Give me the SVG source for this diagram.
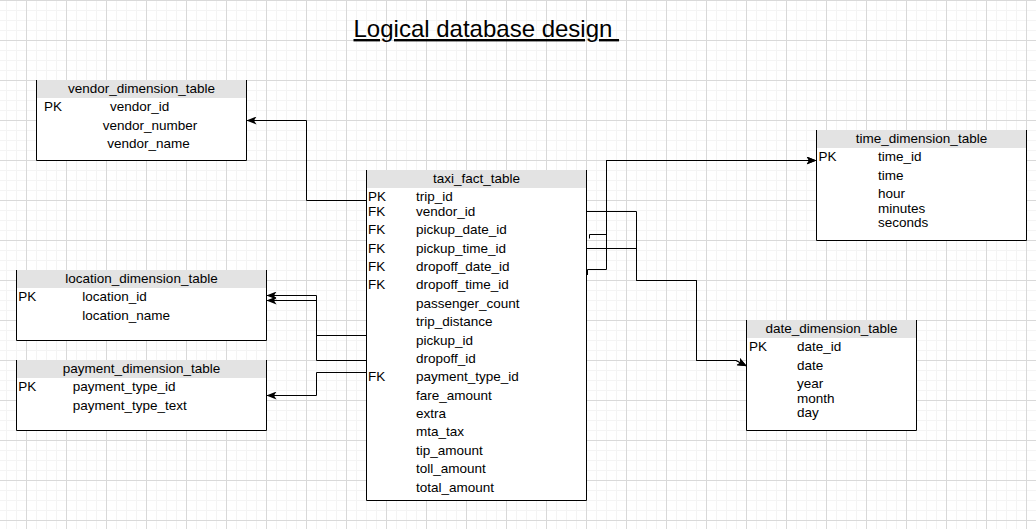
<svg xmlns="http://www.w3.org/2000/svg" width="1036" height="529" viewBox="0 0 1036 529">
<defs>
<pattern id="grid" x="26" y="0" width="40" height="40" patternUnits="userSpaceOnUse">
<rect width="40" height="40" fill="#ffffff"/>
<path d="M10.5 0V40M20.5 0V40M30.5 0V40M0 10.5H40M0 20.5H40M0 30.5H40" stroke="#f4f4f4" stroke-width="1" fill="none"/>
<path d="M0.5 0V40M0 0.5H40" stroke="#d9d9d9" stroke-width="1" fill="none"/>
</pattern>
<marker id="arrow" viewBox="0 0 10 8" refX="9.5" refY="4" markerWidth="10" markerHeight="8" markerUnits="userSpaceOnUse" orient="auto">
<path d="M0,0 L10,4 L0,8 L2.5,4 Z" fill="#000"/>
</marker>
<style>
text{font-family:"Liberation Sans",Arial,sans-serif;font-size:13.5px;fill:#000}
.hdr{fill:#e3e3e3;stroke:none}
.box{fill:#ffffff;stroke:none}
.brd{fill:none;stroke:#000;stroke-width:1}
.ttl{text-anchor:middle}
.conn path{fill:none;stroke:#000;stroke-width:1}
.arr{marker-end:url(#arrow)}
</style>
</defs>
<rect width="1036" height="529" fill="url(#grid)"/>
<text x="353.5" y="37" xml:space="preserve" style="font-size:24px;text-decoration:underline;white-space:pre">Logical database design </text>

<g id="vendor_dimension_table">
<rect class="box" x="36.5" y="80" width="210" height="80.5"/>
<rect class="hdr" x="37" y="80" width="209" height="18"/>
<path class="brd" d="M36.5,80V160.5H246.5V80"/>
<text class="ttl" x="141.5" y="92.5">vendor_dimension_table</text>
<text x="44" y="111">PK</text>
<text x="110" y="111">vendor_id</text>
<text x="102.7" y="130">vendor_number</text>
<text x="107.3" y="148">vendor_name</text>
</g>

<g id="taxi_fact_table">
<rect class="box" x="366.5" y="170" width="220" height="330.5"/>
<rect class="hdr" x="367" y="170" width="219" height="18"/>
<path class="brd" d="M366.5,170V500.5H586.5V170"/>
<text class="ttl" x="476.5" y="183">taxi_fact_table</text>
<text x="368" y="200.5">PK</text><text x="416" y="200.5">trip_id</text>
<text x="368" y="216">FK</text><text x="416" y="216">vendor_id</text>
<text x="368" y="234">FK</text><text x="416" y="234">pickup_date_id</text>
<text x="368" y="252.5">FK</text><text x="416" y="252.5">pickup_time_id</text>
<text x="368" y="271">FK</text><text x="416" y="271">dropoff_date_id</text>
<text x="368" y="289">FK</text><text x="416" y="289">dropoff_time_id</text>
<text x="416" y="307.5">passenger_count</text>
<text x="416" y="325.5">trip_distance</text>
<text x="416" y="344.5">pickup_id</text>
<text x="416" y="362.5">dropoff_id</text>
<text x="368" y="380.5">FK</text><text x="416" y="380.5">payment_type_id</text>
<text x="416" y="399.5">fare_amount</text>
<text x="416" y="417.5">extra</text>
<text x="416" y="435.5">mta_tax</text>
<text x="416" y="454.5">tip_amount</text>
<text x="416" y="472.5">toll_amount</text>
<text x="416" y="491.5">total_amount</text>
</g>

<g id="time_dimension_table">
<rect class="box" x="816.5" y="130" width="210" height="110.5"/>
<rect class="hdr" x="817" y="130" width="209" height="18"/>
<path class="brd" d="M816.5,130V240.5H1026.5V130"/>
<text class="ttl" x="921.5" y="143">time_dimension_table</text>
<text x="818.5" y="160.5">PK</text><text x="878" y="160.5">time_id</text>
<text x="878" y="179.5">time</text>
<text x="878" y="197.5">hour</text>
<text x="878" y="212.5">minutes</text>
<text x="878" y="226.5">seconds</text>
</g>

<g id="date_dimension_table">
<rect class="box" x="746.5" y="320" width="170" height="110.5"/>
<rect class="hdr" x="747" y="320" width="169" height="18"/>
<path class="brd" d="M746.5,320V430.5H916.5V320"/>
<text class="ttl" x="831.5" y="333">date_dimension_table</text>
<text x="749" y="350.5">PK</text><text x="797" y="350.5">date_id</text>
<text x="797" y="369.5">date</text>
<text x="797" y="387.5">year</text>
<text x="797" y="402.5">month</text>
<text x="797" y="416.5">day</text>
</g>

<g id="location_dimension_table">
<rect class="box" x="16.5" y="270" width="250" height="70.5"/>
<rect class="hdr" x="17" y="270" width="249" height="18"/>
<path class="brd" d="M16.5,270V340.5H266.5V270"/>
<text class="ttl" x="141.5" y="283">location_dimension_table</text>
<text x="18.3" y="300.5">PK</text><text x="82.3" y="300.5">location_id</text>
<text x="82.3" y="319.5">location_name</text>
</g>

<g id="payment_dimension_table">
<rect class="box" x="16.5" y="360" width="250" height="70.5"/>
<rect class="hdr" x="17" y="360" width="249" height="18"/>
<path class="brd" d="M16.5,360V430.5H266.5V360"/>
<text class="ttl" x="141.5" y="373">payment_dimension_table</text>
<text x="18.3" y="390.5">PK</text><text x="72.7" y="390.5">payment_type_id</text>
<text x="72.7" y="409.5">payment_type_text</text>
</g>

<g id="connectors" class="conn">
<path id="c_vendor" class="arr" d="M366.5,200.5H306.5V120.5H247"/>
<path id="c_pickup_loc" class="arr" d="M366.5,335.5H316.5V295.5H267"/>
<path id="c_dropoff_loc" class="arr" d="M366.5,360.5H316.5V300.5H267"/>
<path id="c_payment" class="arr" d="M366.5,372.5H316.5V395.5H267"/>
<path id="c_pickup_time" class="arr" d="M589.5,238.5V234.5H606.5V160.5H816"/>
<path id="c_dropoff_time" class="arr" d="M587.5,275V269.5H606.5V160.5H816"/>
<path id="c_pickup_date" class="arr" d="M586.5,211.5H636.5V280.5H696.5V360.5H736L746.5,366"/>
<path id="c_dropoff_date" class="arr" d="M586.5,248.5H636.5V280.5H696.5V360.5H736L746.5,366"/>
</g>
</svg>
